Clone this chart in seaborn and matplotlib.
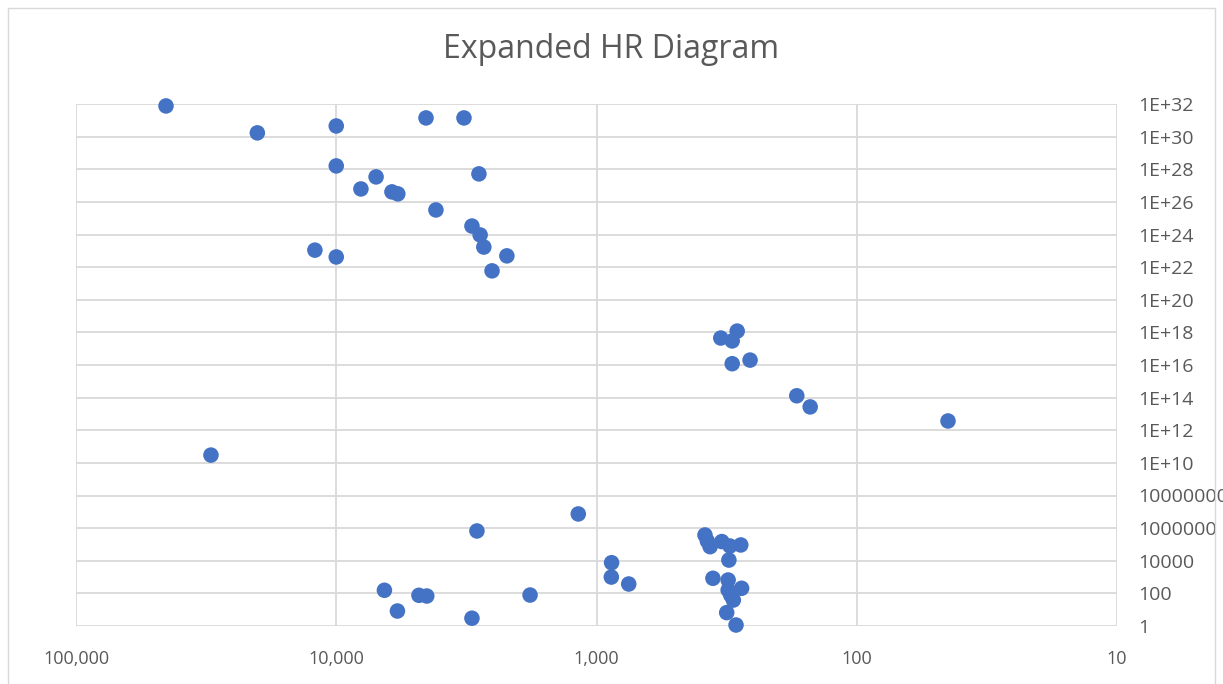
import numpy as np
import pandas as pd
import seaborn as sns
import matplotlib.pyplot as plt
from matplotlib.patches import Rectangle
from matplotlib.ticker import FixedLocator, FixedFormatter, NullLocator

# Значения: температура (K) и светимость
hot_temp = [45100, 20100, 10000, 4520, 3230, 10000, 7030, 8040, 6110, 5800,
            2830, 4140, 3010, 2800, 2710, 2210, 2520, 12080, 10000]
hot_lum = [7.6e31, 1.7e30, 4.5e30, 1.4e31, 1.4e31, 1.6e28, 3.4e27, 6.2e26, 4.1e26, 3.1e26,
           5.2e27, 3.2e25, 3.3e24, 9.4e23, 1.7e23, 4.9e22, 5.9e21, 1.1e23, 4.2e22]

mid_temp = [288, 333, 301, 257, 301, 170, 151, 44.6, 30300]
mid_lum = [1.2e18, 4.5e17, 3.0e17, 2.0e16, 1.2e16, 1.3e14, 2.7e13, 3.7e12, 3.0e10]

low_temp = [1175, 2880, 875, 877, 752, 6530, 5820, 4810, 4490, 3010, 1800]
low_lum = [7.4e6, 6.7e5, 7.6e3, 1.0e3, 375, 155, 8.3, 76, 69, 3.0, 79]

cool_temp = [383, 375, 366, 330, 307, 279, 310, 357, 312, 277, 312, 298, 305, 316, 291]
cool_lum = [3.8e5, 1.6e5, 7.3e4, 1.5e5, 8.0e4, 9.3e4, 1.1e4, 840, 660, 205, 160, 39, 79, 6.6, 1.15]

x_ticks = [100000, 10000, 1000, 100, 10]
x_labels = ['100,000', '10,000', '1,000', '100', '10']
y_exps = list(range(0, 34, 2))
y_labels = [str(10 ** e) if e < 10 else f'1E+{e}' for e in y_exps]

df = pd.DataFrame({
    'temp': hot_temp + mid_temp + low_temp + cool_temp,
    'lum': hot_lum + mid_lum + low_lum + cool_lum,
})

sns.set_style('white')
plt.rcParams['font.family'] = ['Open Sans', 'DejaVu Sans']

fig = plt.figure(figsize=(12.23, 6.84), dpi=100)
ax = fig.add_axes([76 / 1223, 1 - 626 / 684, (1117 - 76) / 1223, (626 - 104) / 684])

sns.scatterplot(data=df, x='temp', y='lum', ax=ax, s=125, color='#4472C4',
                edgecolor='none', linewidth=0, zorder=3, clip_on=False)

ax.set_xscale('log')
ax.set_yscale('log')
ax.set_xlim(100000, 10)
ax.set_ylim(1, 1e32)

ax.xaxis.set_major_locator(FixedLocator(x_ticks))
ax.xaxis.set_major_formatter(FixedFormatter(x_labels))
ax.xaxis.set_minor_locator(NullLocator())
ax.yaxis.set_major_locator(FixedLocator([10.0 ** e for e in y_exps]))
ax.yaxis.set_major_formatter(FixedFormatter(y_labels))
ax.yaxis.set_minor_locator(NullLocator())
ax.yaxis.tick_right()

ax.tick_params(axis='x', length=0, pad=17, labelsize=13, labelcolor='#595959')
ax.tick_params(axis='y', length=0, pad=15, labelsize=14, labelcolor='#595959')
ax.grid(True, color='#d9d9d9', linewidth=1.3)
ax.set_axisbelow(True)
for s in ax.spines.values():
    s.set_visible(False)
ax.set_xlabel('')
ax.set_ylabel('')

fig.text(0.5, 1 - 50 / 684, 'Expanded HR Diagram', ha='center', va='center',
         fontsize=23, color='#595959')

fig.patches.append(Rectangle((8 / 1223, -0.01), 1207 / 1223, 1 - 8 / 684 + 0.01,
                             transform=fig.transFigure, fill=False,
                             edgecolor='#d9d9d9', linewidth=1))

fig.savefig('out.png', dpi=100)
